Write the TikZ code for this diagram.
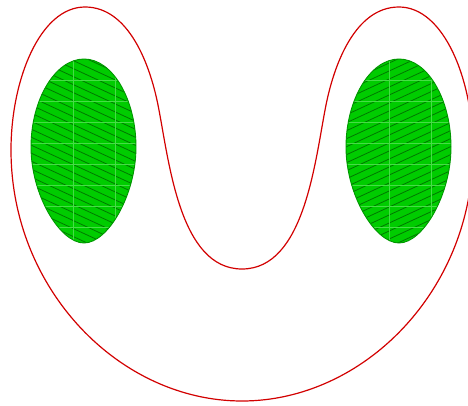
\documentclass[tikz,border=0pt]{standalone}
\begin{document}
\begin{tikzpicture}[x=1pt,y=-1pt,
  outline/.style={draw={rgb,255:red,210;green,0;blue,0},line width=1.2pt},
  eggfill/.style={fill={rgb,255:red,0;green,204;blue,0}},
  eggedge/.style={draw={rgb,255:red,0;green,150;blue,0},line width=0.9pt},
  hatchline/.style={draw={rgb,255:red,0;green,120;blue,0},line width=0.8pt},
  gridline/.style={draw={rgb,255:red,70;green,220;blue,70},line width=0.5pt}]
\useasboundingbox (0,0) rectangle (468,406);
% red outline
\draw[outline] (85,7) .. controls (40,7) and (11,80) .. (11,150)
  .. controls (11,290) and (120,401) .. (242,401)
  .. controls (364,401) and (473,290) .. (473,150)
  .. controls (473,80) and (444,7) .. (399,7)
  .. controls (355,7) and (334,65) .. (326,105)
  .. controls (315,160) and (305,269) .. (242,269)
  .. controls (179,269) and (169,160) .. (158,105)
  .. controls (150,65) and (129,7) .. (85,7) -- cycle;
% eggs
\def\lefteggpath{(84,59) .. controls (113,59) and (136,100) .. (136,147)
  .. controls (136,195) and (108,243) .. (84,243)
  .. controls (60,243) and (31,195) .. (31,147)
  .. controls (31,100) and (55,59) .. (84,59) -- cycle}
\def\righteggpath{(399,59) .. controls (428,59) and (451,100) .. (451,147)
  .. controls (451,195) and (423,243) .. (399,243)
  .. controls (375,243) and (346,195) .. (346,147)
  .. controls (346,100) and (370,59) .. (399,59) -- cycle}
\fill[eggfill] \lefteggpath;
\begin{scope}
  \clip \lefteggpath;
  \foreach \c in {-60,-52,...,260} {\draw[hatchline] (20,\c) -- (150,\c+60);}
  \foreach \gx in {73,115} {\draw[gridline] (\gx,50) -- (\gx,250);}
  \foreach \gy in {80,101,...,240} {\draw[gridline] (20,\gy) -- (150,\gy);}
\end{scope}
\draw[eggedge] \lefteggpath;
\fill[eggfill] \righteggpath;
\begin{scope}
  \clip \righteggpath;
  \foreach \c in {-60,-52,...,260} {\draw[hatchline] (335,\c+60) -- (465,\c);}
  \foreach \gx in {389,431} {\draw[gridline] (\gx,50) -- (\gx,250);}
  \foreach \gy in {80,101,...,240} {\draw[gridline] (335,\gy) -- (465,\gy);}
\end{scope}
\draw[eggedge] \righteggpath;
\end{tikzpicture}
\end{document}
